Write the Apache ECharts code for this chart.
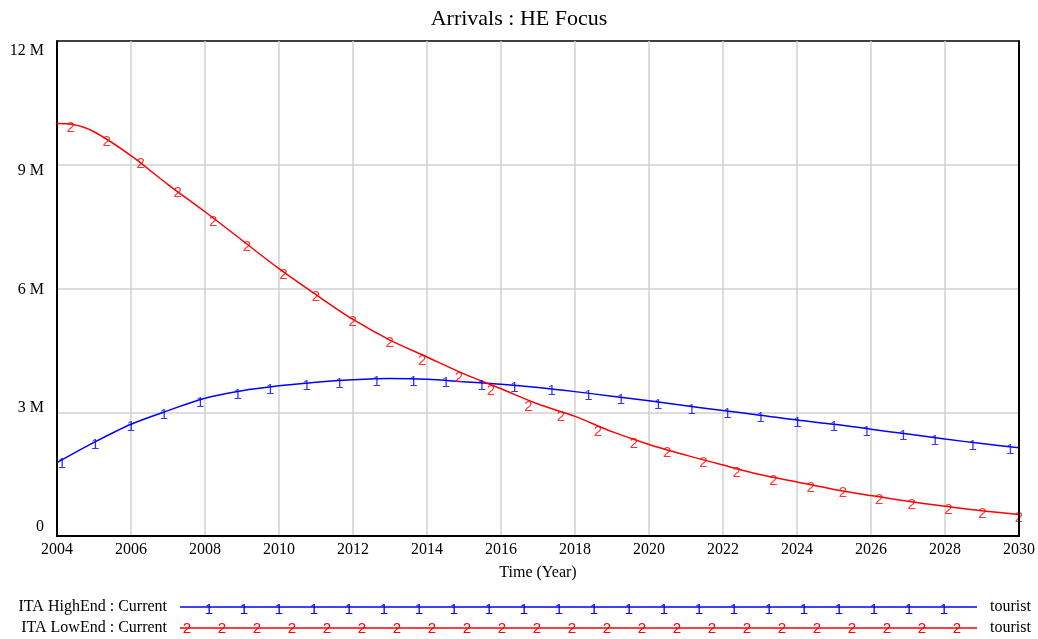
<!DOCTYPE html>
<html>
<head>
<meta charset="utf-8">
<script src="https://cdn.jsdelivr.net/npm/echarts@6/dist/echarts.min.js"></script>
<style>
html,body{margin:0;padding:0;background:#fff;}
#chart{width:1038px;height:639px;}
</style>
</head>
<body>
<div id="chart"></div>
<script>
// ---- Data (values in millions of tourists) ----
const chartTitle = 'Arrivals : HE Focus';
const xAxisName = 'Time (Year)';
const yTickValues = [0, 3, 6, 9, 12];

const highEndName = 'ITA HighEnd : Current';
const lowEndName = 'ITA LowEnd : Current';
const unitName = 'tourist';

const highEndYears = [2004,2005,2006,2007,2008,2009,2010,2011,2012,2013,2014,2015,2016,2017,2018,2019,2020,2021,2022,2023,2024,2025,2026,2027,2028,2029,2030];
const highEndValues = [1.78,2.27,2.71,3.04,3.34,3.52,3.64,3.73,3.79,3.82,3.80,3.74,3.68,3.60,3.50,3.39,3.28,3.16,3.04,2.93,2.81,2.71,2.59,2.47,2.35,2.24,2.14];

const lowEndYears = [2004,2004.4,2005,2006,2007,2008,2009,2010,2011,2012,2013,2014,2015,2016,2017,2018,2019,2020,2021,2022,2023,2024,2025,2026,2027,2028,2029,2030];
const lowEndValues = [10.0,9.98,9.80,9.22,8.52,7.86,7.17,6.48,5.85,5.25,4.75,4.34,3.93,3.57,3.20,2.90,2.53,2.22,1.96,1.72,1.49,1.31,1.13,0.98,0.84,0.72,0.61,0.52];

// marker glyph positions
const highMarkerYears = [2004.13,2005.03,2006.0,2006.89,2007.87,2008.88,2009.76,2010.75,2011.63,2012.64,2013.63,2014.51,2015.48,2016.36,2017.37,2018.36,2019.24,2020.25,2021.15,2022.12,2023.02,2024.01,2025.0,2025.88,2026.87,2027.73,2028.75,2029.76];
const highMarkerValues = [1.82,2.28,2.71,3.00,3.31,3.50,3.62,3.71,3.77,3.82,3.82,3.78,3.72,3.66,3.58,3.46,3.37,3.25,3.13,3.03,2.93,2.81,2.71,2.59,2.49,2.38,2.25,2.15];

const lowMarkerYears = [2004.37,2005.34,2006.26,2007.26,2008.22,2009.13,2010.12,2011.0,2011.99,2012.99,2013.87,2014.86,2015.73,2016.74,2017.62,2018.62,2019.59,2020.49,2021.47,2022.37,2023.36,2024.37,2025.24,2026.22,2027.1,2028.09,2029.01,2030.0];
const lowMarkerValues = [9.92,9.59,9.04,8.34,7.64,7.03,6.36,5.83,5.22,4.70,4.28,3.86,3.54,3.15,2.91,2.56,2.27,2.04,1.80,1.56,1.37,1.19,1.06,0.89,0.79,0.67,0.55,0.47];

// ---- Build ----
const M = 1e6;
const pairs = (xs, ys) => xs.map((x, i) => [x, ys[i] * M]);
const BLUE = '#0000ff', RED = '#ff0000';
const SERIF = '"Liberation Serif","Times New Roman",serif';
const SANS = '"Liberation Sans",Arial,sans-serif';
const GLYPH_FONT = 15;
const GRID_GREY = '#d0d0d0';

const chart = echarts.init(document.getElementById('chart'), null, {renderer: 'canvas'});

// legend decoration (graphic)
const graphics = [];
function legendRow(y, name, color, glyph, firstX, lastX, dy) {
  graphics.push({type: 'text', x: 167, y: y, style: {text: name, font: '16px ' + SERIF, fill: '#000', align: 'right', verticalAlign: 'middle'}});
  graphics.push({type: 'line', shape: {x1: 180, y1: y, x2: 977, y2: y}, style: {stroke: color, lineWidth: 1.5}});
  for (let x = firstX; x <= lastX + 0.5; x += 35) {
    graphics.push({type: 'text', x: x, y: y + dy, style: {text: glyph, font: GLYPH_FONT + 'px ' + SANS, fill: color, align: 'center', verticalAlign: 'middle'}});
  }
  graphics.push({type: 'text', x: 990, y: y, style: {text: unitName, font: '16px ' + SERIF, fill: '#000', align: 'left', verticalAlign: 'middle'}});
}
legendRow(607, highEndName, BLUE, '1', 209, 944, 3);
legendRow(628, lowEndName, RED, '2', 187, 957, 1);

const yRichKey = {0: 'e', 3: 'd', 6: 'c', 9: 'b', 12: 'a'};
const frameAxisLine = {show: true, lineStyle: {color: '#000', width: 2}};
const option = {
  animation: false,
  backgroundColor: '#fff',
  title: {
    text: chartTitle, left: 'center', top: 3,
    textStyle: {fontFamily: SERIF, fontSize: 22, fontWeight: 'normal', color: '#000'}
  },
  grid: {left: 57, right: 19, top: 41, bottom: 103, show: false},
  xAxis: [{
    type: 'value', min: 2004, max: 2030, interval: 2,
    name: xAxisName, nameLocation: 'middle', nameGap: 29,
    nameTextStyle: {fontFamily: SERIF, fontSize: 16, color: '#000'},
    axisLine: frameAxisLine,
    axisTick: {show: false},
    axisLabel: {formatter: v => String(v), fontFamily: SERIF, fontSize: 16, color: '#000', margin: 6},
    splitLine: {show: true, lineStyle: {color: GRID_GREY, width: 1.5}}
  }, {
    type: 'value', position: 'top', min: 2004, max: 2030, interval: 2, z: 6,
    axisLine: frameAxisLine, axisTick: {show: false}, axisLabel: {show: false}, splitLine: {show: false}
  }],
  yAxis: [{
    type: 'value', min: 0, max: 12 * M, interval: 3 * M,
    axisLine: frameAxisLine,
    axisTick: {show: false},
    axisLabel: {
      fontFamily: SERIF, fontSize: 16, color: '#000', margin: 13,
      formatter: v => {
        const m = v / M;
        const t = m === 0 ? '0' : m + ' M';
        return '{' + yRichKey[m] + '|' + t + '}';
      },
      rich: {
        a: {fontFamily: SERIF, fontSize: 16, color: '#000', padding: [20, 0, 0, 0]},
        b: {fontFamily: SERIF, fontSize: 16, color: '#000', padding: [12, 0, 0, 0]},
        c: {fontFamily: SERIF, fontSize: 16, color: '#000', padding: [2, 0, 0, 0]},
        d: {fontFamily: SERIF, fontSize: 16, color: '#000', padding: [0, 0, 8, 0]},
        e: {fontFamily: SERIF, fontSize: 16, color: '#000', padding: [0, 0, 18, 0]}
      }
    },
    splitLine: {show: true, lineStyle: {color: [GRID_GREY, GRID_GREY, GRID_GREY, GRID_GREY, '#000'], width: 1.5}}
  }, {
    type: 'value', position: 'right', min: 0, max: 12 * M, interval: 3 * M, z: 6,
    axisLine: frameAxisLine, axisTick: {show: false}, axisLabel: {show: false}, splitLine: {show: false}
  }],
  series: [
    {
      name: highEndName, type: 'line', data: pairs(highEndYears, highEndValues),
      showSymbol: false, smooth: 0.3, silent: true,
      lineStyle: {color: BLUE, width: 1.5}, itemStyle: {color: BLUE}, z: 3
    },
    {
      name: lowEndName, type: 'line', data: pairs(lowEndYears, lowEndValues),
      showSymbol: false, smooth: 0.3, silent: true,
      lineStyle: {color: RED, width: 1.5}, itemStyle: {color: RED}, z: 3
    },
    {
      type: 'scatter', data: pairs(highMarkerYears, highMarkerValues), silent: true,
      symbol: 'circle', symbolSize: 1, itemStyle: {color: 'rgba(0,0,0,0)'},
      label: {show: true, position: 'inside', offset: [0, 3], formatter: '1', color: BLUE, fontFamily: SANS, fontSize: GLYPH_FONT},
      z: 4
    },
    {
      type: 'scatter', data: pairs(lowMarkerYears, lowMarkerValues), silent: true,
      symbol: 'circle', symbolSize: 1, itemStyle: {color: 'rgba(0,0,0,0)'},
      label: {show: true, position: 'inside', offset: [0, 1], formatter: '2', color: RED, fontFamily: SANS, fontSize: GLYPH_FONT},
      z: 4
    }
  ],
  graphic: graphics
};
chart.setOption(option);
</script>
</body>
</html>
